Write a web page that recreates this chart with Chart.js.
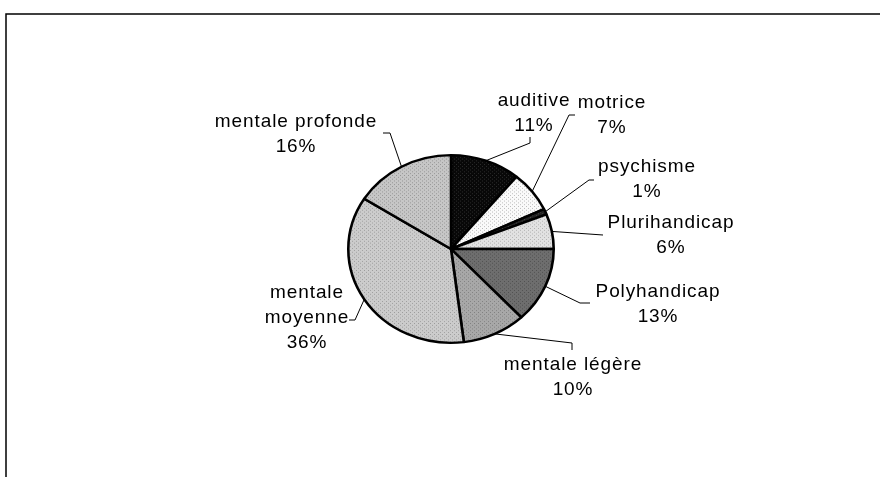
<!DOCTYPE html>
<html>
<head>
<meta charset="utf-8">
<script src="https://cdn.jsdelivr.net/npm/chart.js@4/dist/chart.umd.min.js"></script>
<style>
  body { margin: 0; background: #fff; }
</style>
</head>
<body>
<canvas id="pie" width="880" height="477"></canvas>
<script>
var categories = ['auditive', 'motrice', 'psychisme', 'Plurihandicap', 'Polyhandicap', 'mentale légère', 'mentale moyenne', 'mentale profonde'];
var percents = [11, 7, 1, 6, 13, 10, 36, 16];

// label lines shown for each slice
var labelLines = [
    ['auditive'], ['motrice'], ['psychisme'], ['Plurihandicap'], ['Polyhandicap'],
    ['mentale légère'], ['mentale', 'moyenne'], ['mentale profonde']
];

// layout: text centre of first line, and leader points after the pie edge
var textPos = [[534, 101], [612, 103], [647, 167], [671, 223], [658, 292], [573, 365], [307, 293], [296, 122]];
var leaders = [
    [[530, 143], [530, 137]],
    [[569, 115], [575, 115]],
    [[589, 180], [594, 180]],
    [[603, 235]],
    [[580, 303], [590, 303]],
    [[572, 343], [572, 350]],
    [[355, 320], [349, 320]],
    [[390, 133], [383, 133]]
];

var squash = 95 / 104;

function pattern(a, b) {
    var c = document.createElement('canvas');
    c.width = 4; c.height = 4;
    var g = c.getContext('2d');
    g.fillStyle = a; g.fillRect(0, 0, 4, 4);
    g.fillStyle = b;
    g.fillRect(0, 0, 1, 1); g.fillRect(2, 2, 1, 1);
    return g.createPattern(c, 'repeat');
}

var fills = [
    pattern('#080808', '#2e2e2e'),
    pattern('#fafafa', '#b8b8b8'),
    pattern('#222222', '#4a4a4a'),
    pattern('#e2e2e2', '#b0b0b0'),
    pattern('#6e6e6e', '#505050'),
    pattern('#a8a8a8', '#808080'),
    pattern('#cccccc', '#9c9c9c'),
    pattern('#c6c6c6', '#949494')
];

var ellipse = {
    id: 'ellipse',
    beforeDraw: function (chart) {
        var ctx = chart.ctx;
        ctx.save();
        ctx.strokeStyle = '#000';
        ctx.lineWidth = 1.5;
        ctx.beginPath();
        ctx.moveTo(6, 477);
        ctx.lineTo(6, 14);
        ctx.lineTo(880, 14);
        ctx.stroke();
        ctx.restore();
    },
    beforeDatasetsDraw: function (chart) {
        var arc = chart.getDatasetMeta(0).data[0];
        var ctx = chart.ctx;
        ctx.save();
        ctx.translate(arc.x, arc.y);
        ctx.scale(1, squash);
        ctx.translate(-arc.x, -arc.y);
    },
    afterDatasetsDraw: function (chart) {
        chart.ctx.restore();
    },
    afterDraw: function (chart) {
        var ctx = chart.ctx;
        var arcs = chart.getDatasetMeta(0).data;
        ctx.save();
        ctx.strokeStyle = '#000';
        ctx.lineWidth = 1;
        ctx.fillStyle = '#000';
        ctx.font = '19px "Liberation Sans", Arial, sans-serif';
        ctx.letterSpacing = '0.9px';
        ctx.textAlign = 'center';
        ctx.textBaseline = 'middle';
        for (var i = 0; i < arcs.length; i++) {
            var a = arcs[i];
            var mid = (a.startAngle + a.endAngle) / 2;
            var px = a.x + a.outerRadius * Math.cos(mid);
            var py = a.y + a.outerRadius * Math.sin(mid) * squash;
            ctx.beginPath();
            ctx.moveTo(px, py);
            for (var j = 0; j < leaders[i].length; j++) {
                ctx.lineTo(leaders[i][j][0], leaders[i][j][1]);
            }
            ctx.stroke();
            var lines = labelLines[i].concat([percents[i] + '%']);
            for (var k = 0; k < lines.length; k++) {
                ctx.fillText(lines[k], textPos[i][0], textPos[i][1] + k * 25);
            }
        }
        ctx.restore();
    }
};

var ctx = document.getElementById('pie');
var myChart = new Chart(ctx, {
    type: 'pie',
    data: {
        labels: categories,
        datasets: [{
            data: percents,
            backgroundColor: fills,
            borderColor: '#000',
            borderWidth: 2.6
        }]
    },
    options: {
        responsive: false,
        animation: false,
        layout: { padding: { left: 347, right: 325, top: 145, bottom: 124 } },
        plugins: {
            legend: { display: false },
            tooltip: { enabled: false }
        }
    },
    plugins: [ellipse]
});
</script>
</body>
</html>
